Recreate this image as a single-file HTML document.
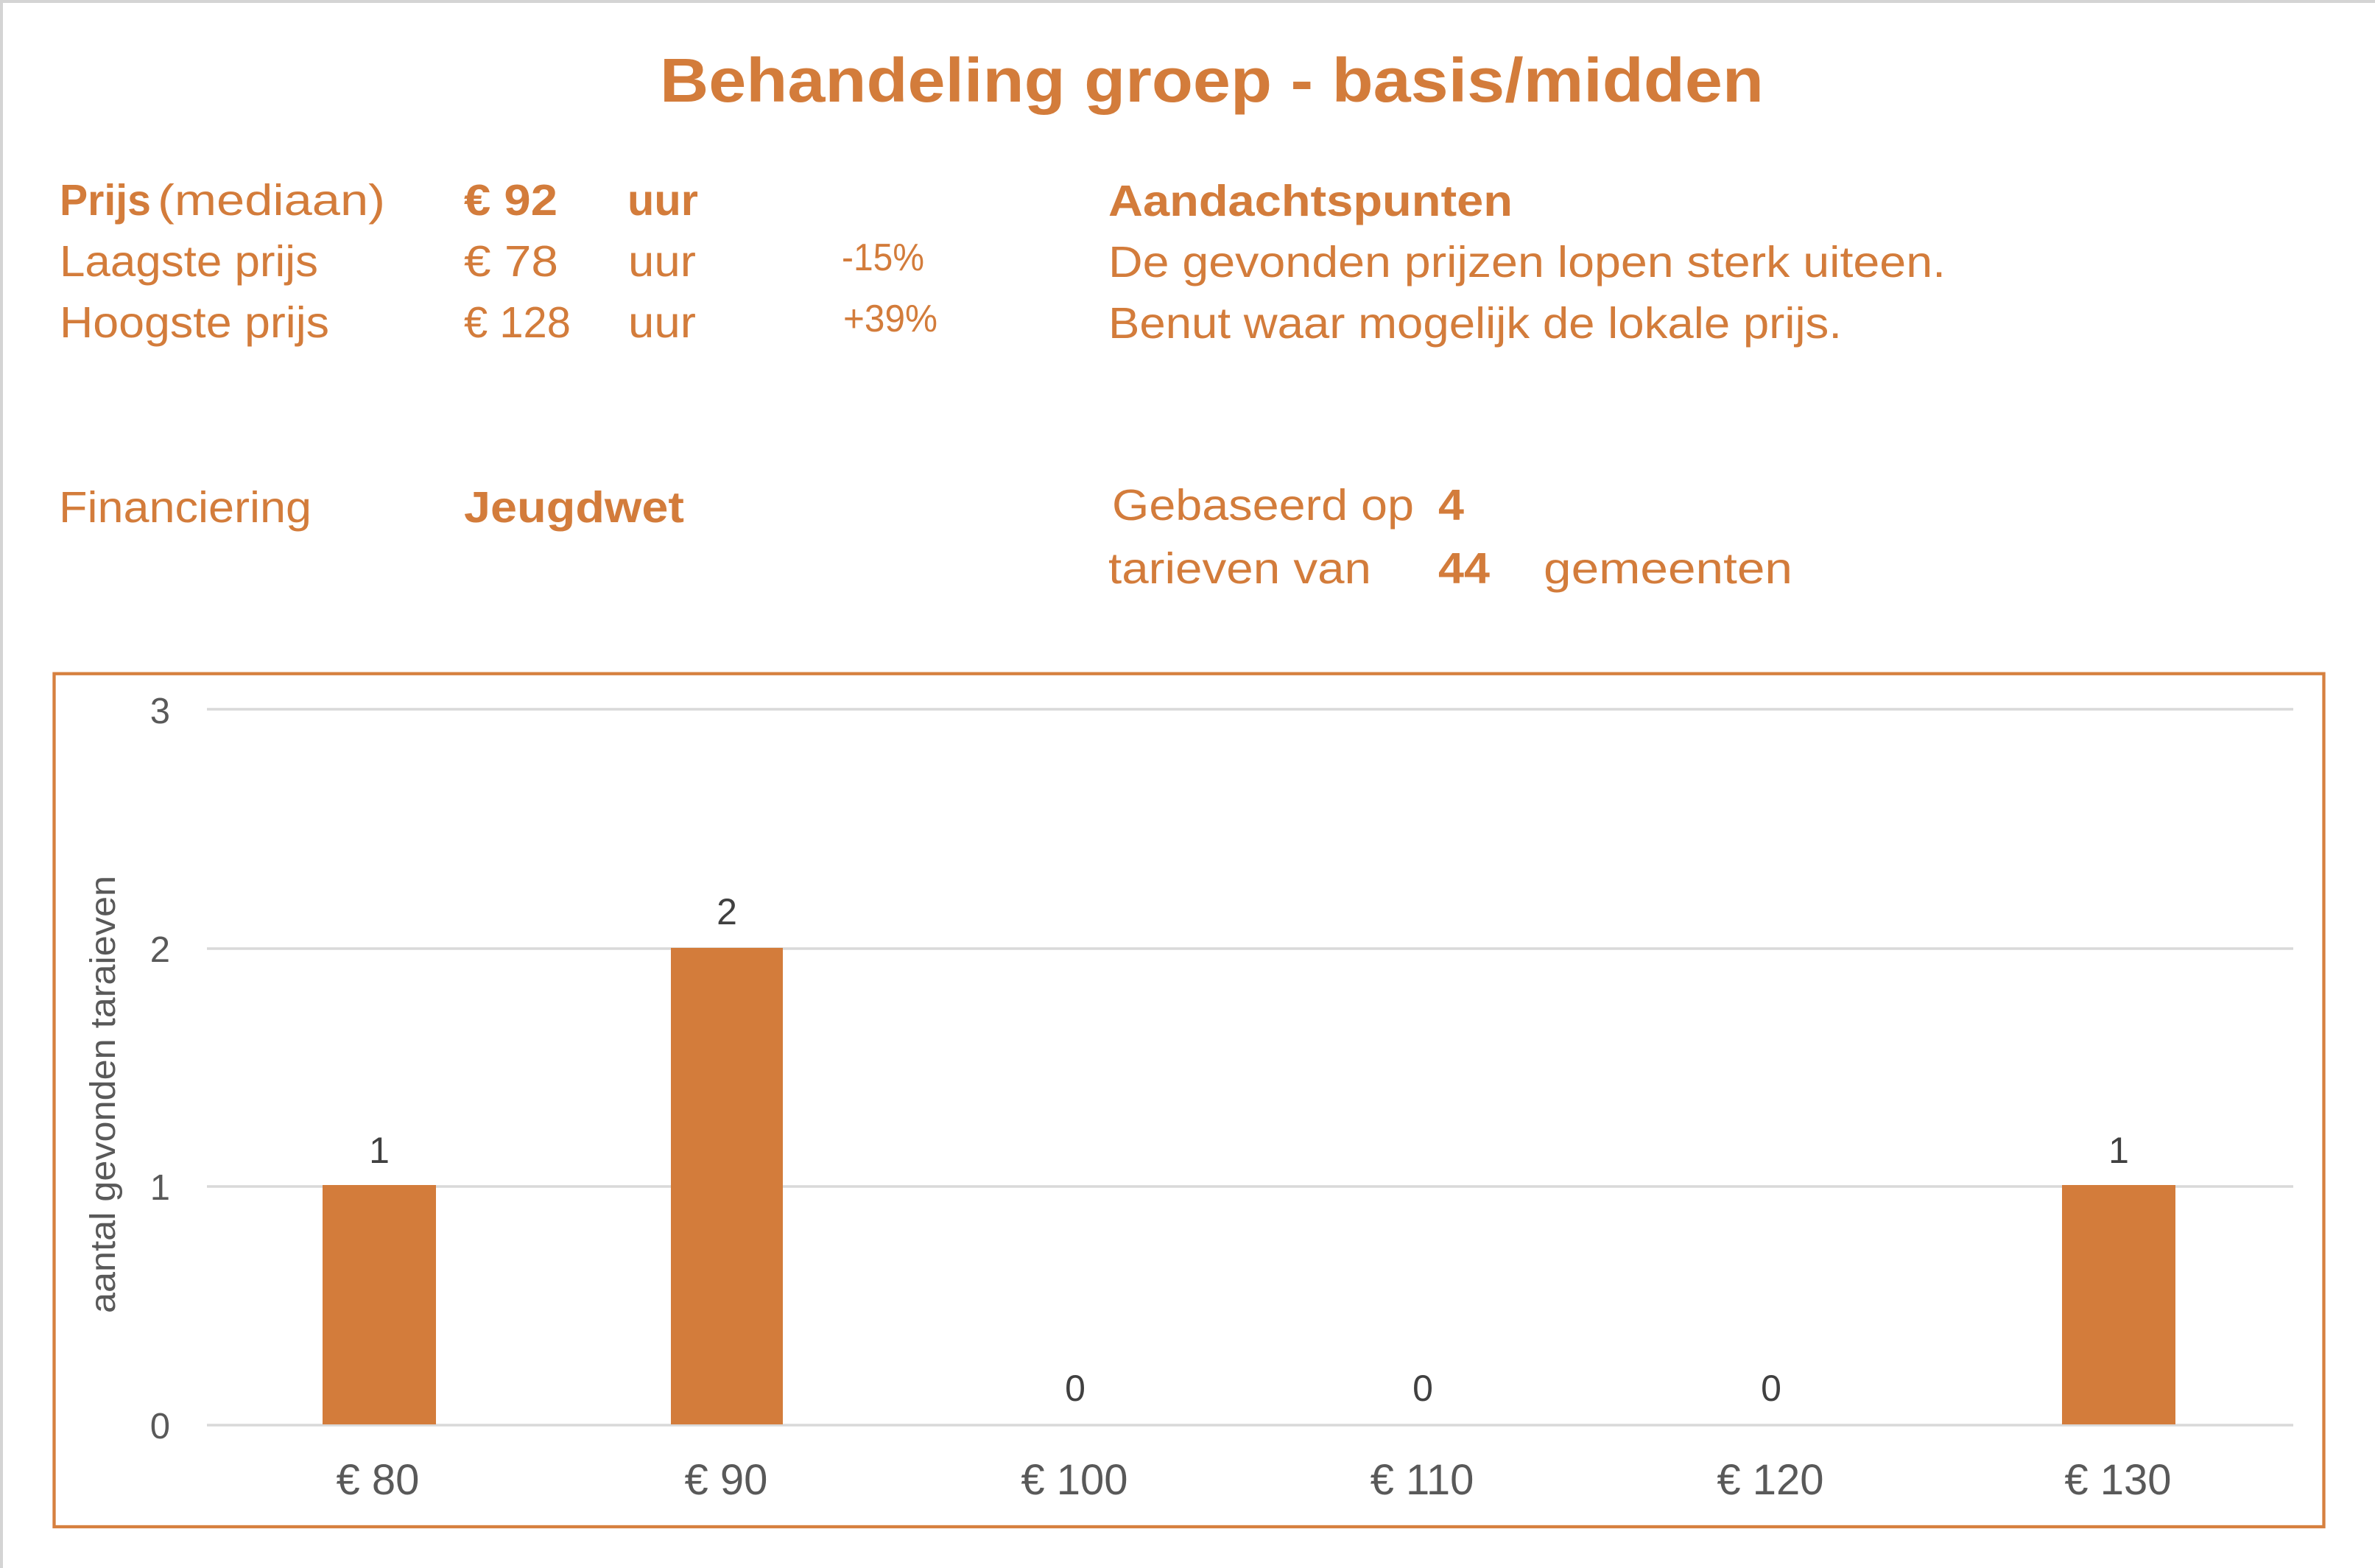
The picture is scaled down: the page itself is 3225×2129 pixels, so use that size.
<!DOCTYPE html>
<html>
<head>
<meta charset="utf-8">
<style>
html,body{margin:0;padding:0;background:#fff;}
svg{display:block;}
text{font-family:"Liberation Sans",Arial,sans-serif;}
</style>
</head>
<body>
<svg width="3225" height="2129" viewBox="0 0 3225 2129" xmlns="http://www.w3.org/2000/svg">
  <rect x="0" y="0" width="3225" height="2129" fill="#ffffff"/>
  <!-- page gray edges -->
  <rect x="0" y="0" width="3225" height="4" fill="#d4d4d4"/>
  <rect x="0" y="0" width="4" height="2129" fill="#d4d4d4"/>

  <!-- Title -->
  <text x="896" y="138" font-size="84" font-weight="bold" fill="#D37C3B" textLength="1499" lengthAdjust="spacingAndGlyphs">Behandeling groep - basis/midden</text>

  <!-- Info block -->
  <g fill="#D37C3B" font-size="59">
    <text x="81" y="292" font-weight="bold" textLength="124" lengthAdjust="spacingAndGlyphs">Prijs</text>
    <text x="214" y="292" textLength="309" lengthAdjust="spacingAndGlyphs">(mediaan)</text>
    <text x="630" y="292" font-weight="bold" textLength="127" lengthAdjust="spacingAndGlyphs">€ 92</text>
    <text x="852" y="292" font-weight="bold" textLength="96" lengthAdjust="spacingAndGlyphs">uur</text>
    <text x="1505" y="293" font-weight="bold" textLength="549" lengthAdjust="spacingAndGlyphs">Aandachtspunten</text>

    <text x="81" y="375" textLength="351" lengthAdjust="spacingAndGlyphs">Laagste prijs</text>
    <text x="630" y="375" textLength="128" lengthAdjust="spacingAndGlyphs">€ 78</text>
    <text x="853" y="375" textLength="92" lengthAdjust="spacingAndGlyphs">uur</text>
    <text x="1143" y="367" font-size="52" textLength="112" lengthAdjust="spacingAndGlyphs">-15%</text>
    <text x="1505" y="376" textLength="1137" lengthAdjust="spacingAndGlyphs">De gevonden prijzen lopen sterk uiteen.</text>

    <text x="81" y="458" textLength="366" lengthAdjust="spacingAndGlyphs">Hoogste prijs</text>
    <text x="630" y="458" textLength="145" lengthAdjust="spacingAndGlyphs">€ 128</text>
    <text x="853" y="458" textLength="92" lengthAdjust="spacingAndGlyphs">uur</text>
    <text x="1145" y="450" font-size="52" textLength="128" lengthAdjust="spacingAndGlyphs">+39%</text>
    <text x="1505" y="459" textLength="996" lengthAdjust="spacingAndGlyphs">Benut waar mogelijk de lokale prijs.</text>

    <text x="80" y="709" textLength="343" lengthAdjust="spacingAndGlyphs">Financiering</text>
    <text x="630" y="709" font-weight="bold" textLength="299" lengthAdjust="spacingAndGlyphs">Jeugdwet</text>
    <text x="1510" y="706" textLength="410" lengthAdjust="spacingAndGlyphs">Gebaseerd op</text>
    <text x="1953" y="706" font-weight="bold" textLength="35" lengthAdjust="spacingAndGlyphs">4</text>

    <text x="1505" y="792" textLength="357" lengthAdjust="spacingAndGlyphs">tarieven van</text>
    <text x="1953" y="792" font-weight="bold" textLength="70" lengthAdjust="spacingAndGlyphs">44</text>
    <text x="2096" y="792" textLength="338" lengthAdjust="spacingAndGlyphs">gemeenten</text>
  </g>

  <!-- Chart frame -->
  <rect x="73.5" y="914.7" width="3082" height="1158.3" fill="#ffffff" stroke="#D6803F" stroke-width="4.3"/>

  <!-- Gridlines -->
  <g stroke="#d9d9d9" stroke-width="3.5">
    <line x1="281" y1="963" x2="3114" y2="963"/>
    <line x1="281" y1="1288" x2="3114" y2="1288"/>
    <line x1="281" y1="1611" x2="3114" y2="1611"/>
    <line x1="281" y1="1935" x2="3114" y2="1935"/>
  </g>

  <!-- Y tick labels -->
  <g fill="#595959" font-size="49" text-anchor="end">
    <text x="231" y="982">3</text>
    <text x="231" y="1306">2</text>
    <text x="231" y="1629">1</text>
    <text x="231" y="1953">0</text>
  </g>

  <!-- Y axis title -->
  <text transform="translate(156,1486) rotate(-90)" text-anchor="middle" font-size="48" fill="#595959" textLength="594" lengthAdjust="spacingAndGlyphs">aantal gevonden taraieven</text>

  <!-- Bars -->
  <g fill="#D37C3B">
    <rect x="438" y="1609" width="154" height="325"/>
    <rect x="911" y="1287" width="152" height="647"/>
    <rect x="2800" y="1609" width="154" height="325"/>
  </g>

  <!-- Data labels -->
  <g fill="#404040" font-size="50" text-anchor="middle">
    <text x="515" y="1579">1</text>
    <text x="987" y="1255">2</text>
    <text x="1460" y="1902">0</text>
    <text x="1932" y="1902">0</text>
    <text x="2405" y="1902">0</text>
    <text x="2877" y="1579">1</text>
  </g>

  <!-- X labels -->
  <g fill="#595959" font-size="58" text-anchor="middle">
    <text x="513" y="2029">€ 80</text>
    <text x="986" y="2029">€ 90</text>
    <text x="1459" y="2029">€ 100</text>
    <text x="1931" y="2029">€ 110</text>
    <text x="2404" y="2029">€ 120</text>
    <text x="2876" y="2029">€ 130</text>
  </g>
</svg>
</body>
</html>
